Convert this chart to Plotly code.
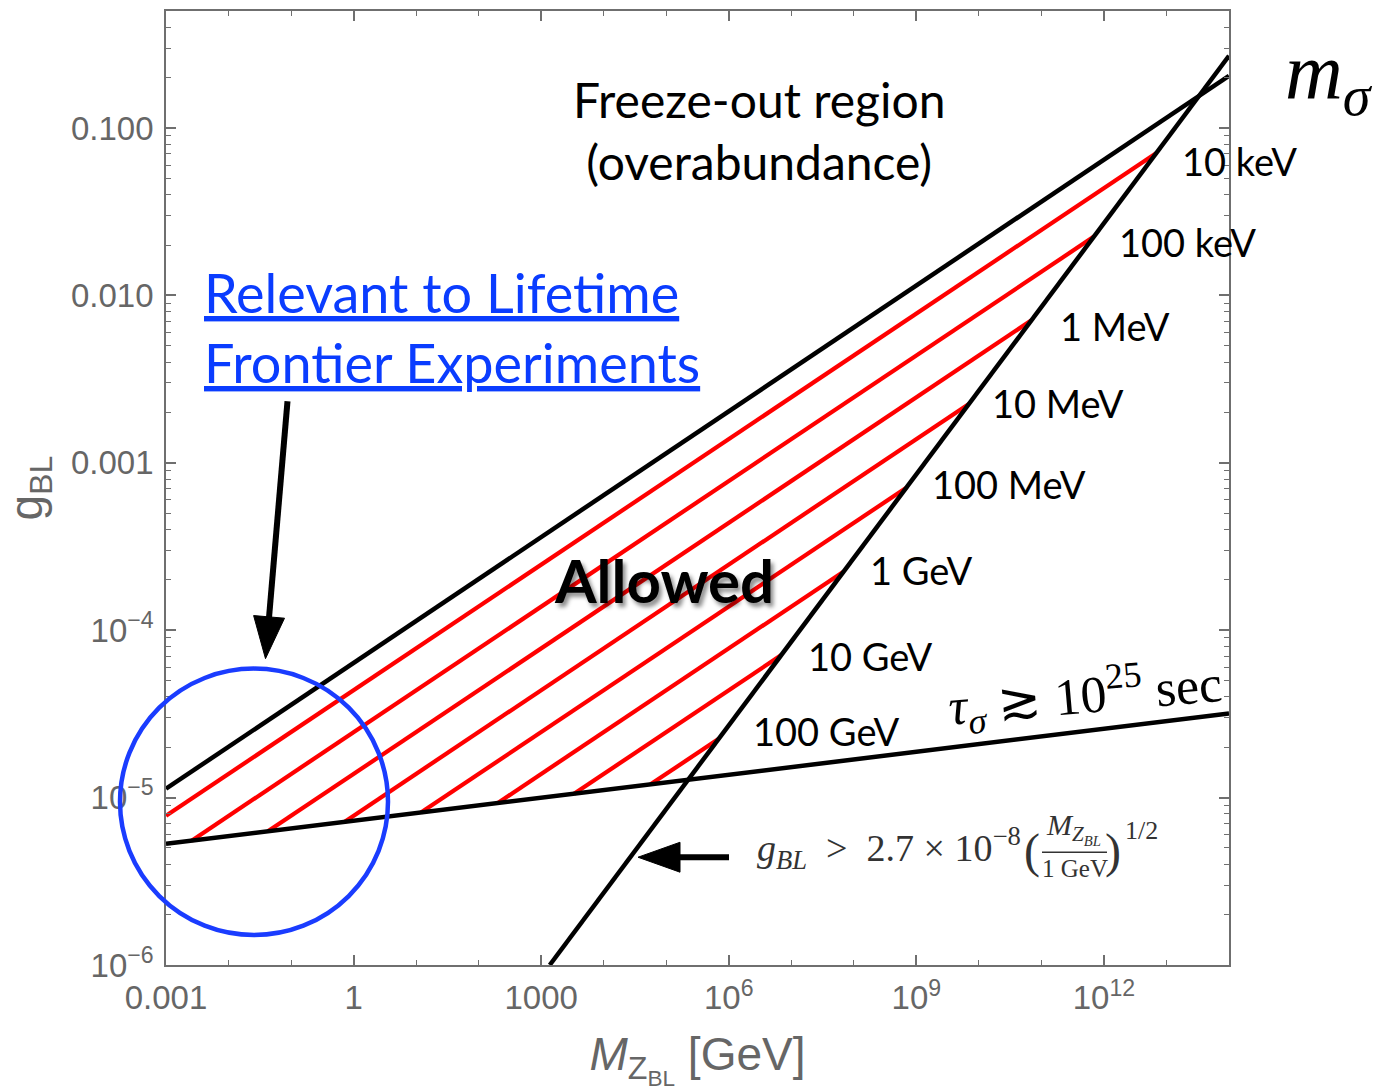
import math
import plotly.graph_objects as go

# ---------------- data ----------------
mass_ticks = [1e-3, 1, 1e3, 1e6, 1e9, 1e12]
mass_ticktext = ["0.001", "1", "1000", "10<sup>6</sup>", "10<sup>9</sup>", "10<sup>12</sup>"]
mass_minor = [1e-2, 1e-1, 10, 100, 1e4, 1e5, 1e7, 1e8, 1e10, 1e11, 1e13]
g_ticks = [1e-6, 1e-5, 1e-4, 1e-3, 1e-2, 1e-1]
g_ticktext = ["10<sup>−6</sup>", "10<sup>−5</sup>", "10<sup>−4</sup>", "0.001", "0.010", "0.100"]
g_minor = [m * 10.0 ** k for k in range(-6, 0) for m in range(2, 10)]

# freeze-out (overabundance) boundary
freezeout_M = [1e-3, 1e14]
freezeout_g = [1.13e-5, 0.205]
# lifetime bound tau_sigma >~ 1e25 sec
lifetime_M = [1e-3, 1e14]
lifetime_g = [5.3e-6, 3.18e-5]
# g_BL > 2.7e-8 (M/1GeV)^(1/2)
steep_M = [1.37e3, 1e14]
steep_g = [1e-6, 0.27]

# m_sigma contours (red)
msigma_labels = ["10 keV", "100 keV", "1 MeV", "10 MeV", "100 MeV", "1 GeV", "10 GeV", "100 GeV"]
red_start_M = [1e-3, 2.57e-3, 4.26e-2, 0.713, 11.95, 200.3, 3357, 5.62e4]
red_start_g = [7.79e-6, 5.53e-6, 6.29e-6, 7.16e-6, 8.14e-6, 9.26e-6, 1.054e-5, 1.20e-5]
red_end_M = [6.92e12, 6.92e11, 6.92e10, 6.92e9, 6.92e8, 6.92e7, 6.92e6, 6.92e5]
red_end_g = [7.10e-2, 2.246e-2, 7.10e-3, 2.246e-3, 7.10e-4, 2.246e-4, 7.10e-5, 2.246e-5]

# ---------------- layout helpers ----------------
W, H = 1383, 1091
L, R, T, B = 166, 154, 9, 126
PW, PH = W - L - R, H - T - B


def P(x):
    return (x - L) / PW


def Q(y):
    return (H - B - y) / PH


fig = go.Figure()

for i in range(len(msigma_labels)):
    fig.add_trace(go.Scatter(
        x=[red_start_M[i], red_end_M[i]], y=[red_start_g[i], red_end_g[i]],
        mode="lines", line=dict(color="#ff0000", width=4.2), hoverinfo="skip"))

for xs, ys in [(freezeout_M, freezeout_g), (lifetime_M, lifetime_g), (steep_M, steep_g)]:
    fig.add_trace(go.Scatter(x=xs, y=ys, mode="lines",
                             line=dict(color="black", width=4.5), hoverinfo="skip"))

axis_gray = "#6f6f6f"
tick_font = dict(family="Liberation Sans, Arial, sans-serif", size=33, color="#666666")

fig.update_xaxes(
    type="log", range=[-3, 14], showgrid=False, zeroline=False,
    showline=True, linecolor=axis_gray, linewidth=1.6, mirror="ticks",
    tickmode="array", tickvals=mass_ticks, ticktext=mass_ticktext,
    ticks="inside", ticklen=10, tickwidth=1.6, tickcolor=axis_gray,
    tickfont=tick_font, ticklabelstandoff=3,
    minor=dict(tickmode="array", tickvals=mass_minor, ticks="inside", ticklen=5,
               tickwidth=1.4, tickcolor=axis_gray, showgrid=False),
    title=dict(text="<i>M</i><sub>Z<sub>BL</sub></sub> [GeV]", standoff=22,
               font=dict(family="Liberation Sans, Arial, sans-serif", size=46, color="#666666")),
)
fig.update_yaxes(
    type="log", range=[-6, math.log10(0.5)], showgrid=False, zeroline=False,
    showline=True, linecolor=axis_gray, linewidth=1.6, mirror="ticks",
    tickmode="array", tickvals=g_ticks, ticktext=g_ticktext,
    ticks="inside", ticklen=10, tickwidth=1.6, tickcolor=axis_gray,
    tickfont=tick_font, ticklabelstandoff=4,
    minor=dict(tickmode="array", tickvals=g_minor + [0.2, 0.3, 0.4, 0.5], ticks="inside",
               ticklen=5, tickwidth=1.4, tickcolor=axis_gray, showgrid=False),
    title=dict(text="g<sub>BL</sub>", standoff=20,
               font=dict(family="Liberation Sans, Arial, sans-serif", size=46, color="#666666")),
)

ann = []
sans = "Lato, Carlito, Calibri, sans-serif"
serif = "Liberation Serif, Times New Roman, serif"

ann.append(dict(text="Freeze-out region<br>(overabundance)", x=P(759), y=Q(129),
                xref="paper", yref="paper", xanchor="center", yanchor="middle",
                showarrow=False, font=dict(family=sans, size=48, color="black")))

blue = "#0a3cff"
ann.append(dict(text="<u>Relevant to Lifetime</u>", x=P(202), y=Q(291),
                xref="paper", yref="paper", xanchor="left", yanchor="middle",
                showarrow=False, font=dict(family=sans, size=54, color=blue)))
ann.append(dict(text="<u>Frontier Experiments</u>", x=P(202), y=Q(361),
                xref="paper", yref="paper", xanchor="left", yanchor="middle",
                showarrow=False, font=dict(family=sans, size=54, color=blue)))

ann.append(dict(text="Allowed", x=P(664), y=Q(579), xref="paper", yref="paper",
                xanchor="center", yanchor="middle", showarrow=False,
                font=dict(family=sans, size=60, color="black", weight="bold",
                          shadow="3px 4px 4px rgba(0,0,0,0.45)")))

label_dx = [24, 23, 27, 21, 24, 24, 25, 32]
label_dy = [-8, -5, -6, 1, 4, 1, -1, 8]
for i, lab in enumerate(msigma_labels):
    ann.append(dict(text=lab, x=math.log10(red_end_M[i]), y=math.log10(red_end_g[i]),
                    xref="x", yref="y", xanchor="left", yanchor="middle",
                    xshift=label_dx[i], yshift=label_dy[i], showarrow=False,
                    font=dict(family=sans, size=38, color="black")))

ann.append(dict(text="<i>m</i><sub><i>σ</i></sub>", x=P(1283), y=Q(75),
                xref="paper", yref="paper", xanchor="left", yanchor="middle",
                showarrow=False, font=dict(family=serif, size=80, color="black")))

ann.append(dict(text="<i>τ</i><sub><i>σ</i></sub> ≳ 10<sup>25</sup> sec", x=P(1085), y=Q(695),
                xref="paper", yref="paper", xanchor="center", yanchor="middle",
                textangle=-5, showarrow=False, font=dict(family=serif, size=52, color="black")))

fcol = "#333333"
ann.append(dict(text="<i>g</i><sub><i>BL</i></sub>\u2002>\u20022.7 × 10<sup>−8</sup>", x=P(755), y=Q(848),
                xref="paper", yref="paper", xanchor="left", yanchor="middle",
                showarrow=False, font=dict(family=serif, size=38, color=fcol)))
ann.append(dict(text="(", x=P(1032), y=Q(851), xref="paper", yref="paper",
                xanchor="center", yanchor="middle", showarrow=False,
                font=dict(family=serif, size=48, color=fcol)))
ann.append(dict(text="<i>M</i><sub><i>Z</i><sub><i>BL</i></sub></sub>", x=P(1073), y=Q(851),
                xref="paper", yref="paper", xanchor="center", yanchor="bottom",
                showarrow=False, font=dict(family=serif, size=30, color=fcol)))
ann.append(dict(text="1 GeV", x=P(1075), y=Q(853), xref="paper", yref="paper",
                xanchor="center", yanchor="top", showarrow=False,
                font=dict(family=serif, size=25, color=fcol)))
ann.append(dict(text=")", x=P(1113), y=Q(851), xref="paper", yref="paper",
                xanchor="center", yanchor="middle", showarrow=False,
                font=dict(family=serif, size=48, color=fcol)))
ann.append(dict(text="1/2", x=P(1123), y=Q(830), xref="paper", yref="paper",
                xanchor="left", yanchor="middle", showarrow=False,
                font=dict(family=serif, size=26, color=fcol)))

shapes = []
# fraction bar
shapes.append(dict(type="line", xref="paper", yref="paper", x0=P(1042), x1=P(1107),
                   y0=Q(852), y1=Q(852), line=dict(color=fcol, width=1.5)))
# blue circle
shapes.append(dict(type="circle", xref="paper", yref="paper", x0=P(120), x1=P(388),
                   y0=Q(935), y1=Q(668), line=dict(color="#1a3cff", width=4.5)))


def arrow(x0, y0, x1, y1, head_len, head_w, width):
    dx, dy = x1 - x0, y1 - y0
    n = math.hypot(dx, dy)
    ux, uy = dx / n, dy / n
    bx, by = x1 - ux * head_len, y1 - uy * head_len
    px, py = -uy, ux
    out = [dict(type="line", xref="paper", yref="paper", x0=P(x0), y0=Q(y0),
                x1=P(bx + ux * 2), y1=Q(by + uy * 2), line=dict(color="black", width=width))]
    c1 = (bx + px * head_w / 2, by + py * head_w / 2)
    c2 = (bx - px * head_w / 2, by - py * head_w / 2)
    path = "M{:.5f},{:.5f} L{:.5f},{:.5f} L{:.5f},{:.5f} Z".format(
        P(x1), Q(y1), P(c1[0]), Q(c1[1]), P(c2[0]), Q(c2[1]))
    out.append(dict(type="path", xref="paper", yref="paper", path=path,
                    fillcolor="black", line=dict(color="black", width=1)))
    return out


shapes += arrow(287.5, 400, 265.5, 658, 42, 31, 6)
shapes += arrow(729, 857, 638, 857, 42, 30, 6)

fig.update_layout(
    width=W, height=H, margin=dict(l=L, r=R, t=T, b=B, pad=0),
    plot_bgcolor="white", paper_bgcolor="white", showlegend=False,
    annotations=ann, shapes=shapes,
)

fig.write_html("out.html")
